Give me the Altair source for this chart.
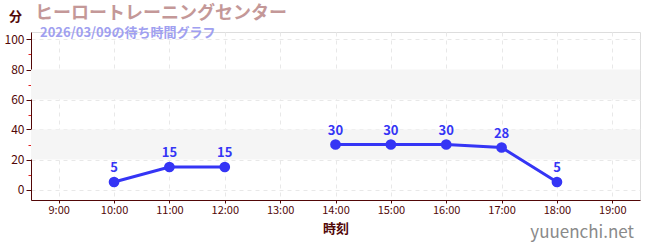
import altair as alt
import pandas as pd

# Wait times (minutes) by hour of day
hours = [10, 11, 12, 14, 15, 16, 17, 18]
waits = [5, 15, 15, 30, 30, 30, 28, 5]

# Shaded horizontal bands on the wait-time axis
band_lo = [20, 60]
band_hi = [40, 80]

tick_hours = list(range(9, 20))
y_ticks = list(range(0, 101, 10))

# Split the line wherever an hour is missing
seg, s = [], 0
for i, h in enumerate(hours):
    if i > 0 and h - hours[i - 1] > 1:
        s += 1
    seg.append(s)

df = pd.DataFrame({"hour": hours, "wait": waits, "seg": seg})
bands = pd.DataFrame({"lo": band_lo, "hi": band_hi})

AXIS = "#520808"
LINE = "#3535f5"
FONT = "Noto Sans CJK JP"
MAJOR = "datum.value % 20 == 0"

xscale = alt.Scale(domain=[8.5, 19.5], nice=False, zero=False)
yscale = alt.Scale(domain=[-7, 105], nice=False, zero=False)

x_axis = alt.Axis(
    values=tick_hours, labelExpr="datum.value + ':00'", title="時刻",
    domainColor=AXIS, tickColor=AXIS, labelColor=AXIS, titleColor=AXIS,
    labelFontSize=11, titleFontSize=13, titleFontWeight="bold",
    tickSize=3, labelPadding=1, titlePadding=7, labelOverlap=False,
    grid=True, gridColor="#e8e8e8", gridDash=[4, 4],
    labelFont=FONT, titleFont=FONT,
)
y_axis = alt.Axis(
    values=y_ticks,
    labelExpr=f"{MAJOR} ? datum.value : ''",
    labelOverlap=False,
    title="分", titleAngle=0, titleX=-16, titleY=-16,
    titleAlign="center", titleBaseline="middle",
    domainColor=AXIS, labelColor=AXIS, titleColor=AXIS,
    tickColor={"condition": {"test": MAJOR, "value": AXIS}, "value": "#e02020"},
    tickSize={"condition": {"test": MAJOR, "value": 5}, "value": 3},
    labelFontSize=12, titleFontSize=13, titleFontWeight="bold",
    labelPadding=2,
    grid=True, gridColor="#e8e8e8", gridDash=[4, 4],
    gridOpacity={"condition": {"test": MAJOR, "value": 1}, "value": 0},
    labelFont=FONT, titleFont=FONT,
)

band_layer = alt.Chart(bands).mark_rect(color="#f5f5f5").encode(
    x=alt.value(0), x2=alt.value(609),
    y=alt.Y("lo:Q", scale=yscale, axis=y_axis),
    y2="hi:Q",
)

base = alt.Chart(df).encode(
    x=alt.X("hour:Q", scale=xscale, axis=x_axis),
    y=alt.Y("wait:Q", scale=yscale, axis=y_axis),
)

line = base.mark_line(color=LINE, strokeWidth=3).encode(detail="seg:N")
pts = base.mark_circle(color=LINE, size=115, opacity=1)
labels = base.mark_text(
    color=LINE, dy=-14, fontSize=13, fontWeight="bold", font=FONT
).encode(text="wait:Q")

heading = alt.Chart(pd.DataFrame({"t": ["ヒーロートレーニングセンター"]})).mark_text(
    align="left", baseline="middle", fontSize=18, fontWeight="bold",
    color="#c49898", font=FONT
).encode(x=alt.value(4), y=alt.value(-18), text="t:N")

subtitle = alt.Chart(pd.DataFrame({"t": ["2026/03/09の待ち時間グラフ"]})).mark_text(
    align="left", baseline="middle", fontSize=13, fontWeight="bold",
    color="#a0a0f0", font=FONT
).encode(x=alt.value(9), y=alt.value(1), text="t:N")

site = alt.Chart(pd.DataFrame({"t": ["yuuenchi.net"]})).mark_text(
    align="right", baseline="middle", fontSize=17, color="#8a8a8a", font=FONT
).encode(x=alt.value(603), y=alt.value(201), text="t:N")

chart = alt.layer(band_layer, line, pts, labels, heading, subtitle, site).properties(
    width=609, height=168,
    padding={"left": 31, "top": 32, "right": 10, "bottom": 50},
    autosize=alt.AutoSizeParams(type="none"),
).configure_view(stroke=None).configure(background="white")

chart.save("out.html", embed_options={"renderer": "svg", "actions": False})
